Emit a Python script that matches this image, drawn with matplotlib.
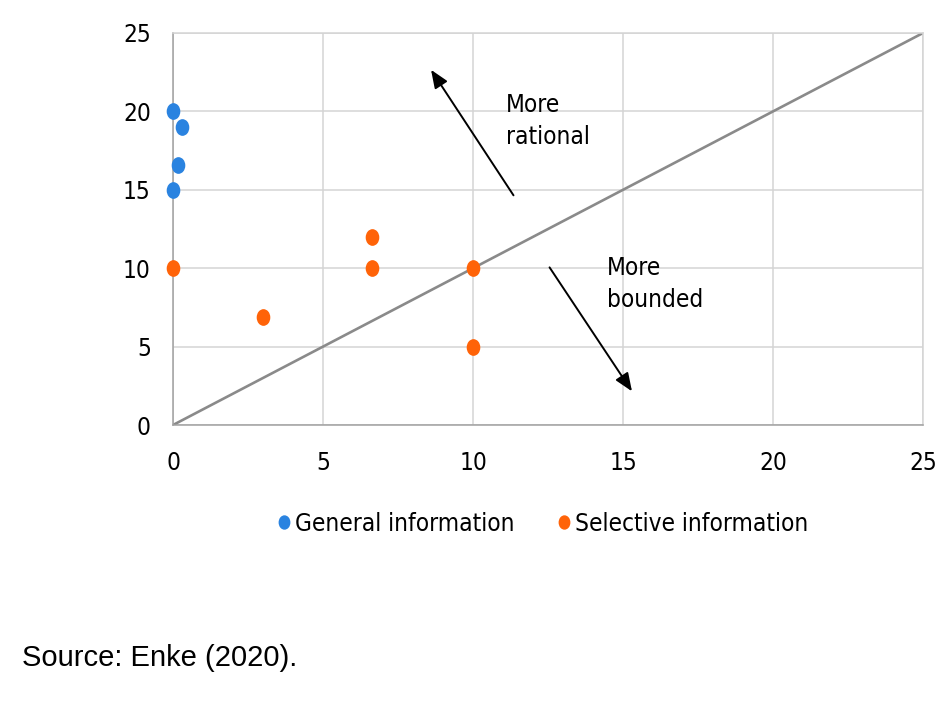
import matplotlib
matplotlib.use("Agg")
import matplotlib.pyplot as plt
from matplotlib.path import Path
from matplotlib.transforms import Affine2D
import numpy as np

# data
general_x = [0.0, 0.3, 0.17, 0.0]
general_y = [20.0, 19.0, 16.6, 15.0]
selective_x = [0.0, 3.0, 6.63, 6.63, 10.0, 10.0]
selective_y = [10.0, 6.9, 12.0, 10.0, 10.0, 5.0]
ticks = [0, 5, 10, 15, 20, 25]

plt.rcParams["font.family"] = "DejaVu Sans"
plt.rcParams["font.stretch"] = "condensed"
fs = 17.5

# slightly tall dot, like the squeezed original
dot = Path.unit_circle().transformed(Affine2D().scale(0.8, 1.0))

fig = plt.figure(figsize=(9.46, 7.08), dpi=100)
ax = fig.add_axes([0.1829, 0.3997, 0.7928, 0.5537])

ax.plot([0, 25], [0, 25], color="#8a8a8a", lw=1.9, zorder=2)
ax.plot(general_x, general_y, ls="none", marker=dot, ms=11, color="#2a83e0",
        label="General information", zorder=3, clip_on=False)
ax.plot(selective_x, selective_y, ls="none", marker=dot, ms=11, color="#ff6308",
        label="Selective information", zorder=3, clip_on=False)

arrow = dict(arrowstyle="-|>,head_length=1.1,head_width=0.45", color="black", lw=1.4)
ax.annotate("", xy=(8.55, 22.8), xytext=(11.4, 14.5), arrowprops=arrow)
ax.annotate("", xy=(15.35, 2.0), xytext=(12.5, 10.2), arrowprops=arrow)
ax.text(11.1, 19.4, "More\nrational", fontsize=fs, va="center", ha="left",
        linespacing=1.45)
ax.text(14.45, 9.0, "More\nbounded", fontsize=fs, va="center", ha="left",
        linespacing=1.45)

ax.set_xlim(0, 25)
ax.set_ylim(0, 25)
ax.set_xticks(ticks)
ax.set_yticks(ticks)
ax.grid(True, color="#d4d4d4", lw=1.1)
ax.set_axisbelow(True)
for s in ax.spines.values():
    s.set_color("#d4d4d4")
    s.set_linewidth(1.1)
ax.spines["bottom"].set_color("#a0a0a0")
ax.spines["left"].set_color("#a0a0a0")
ax.tick_params(length=0, labelsize=fs, pad=16)
ax.tick_params(axis="x", pad=19)

fig.legend(loc="center", bbox_to_anchor=(0.574, 0.26), ncol=2, frameon=False,
           prop={"size": fs}, handlelength=0.5,
           handletextpad=0.2, columnspacing=1.8, markerscale=0.85)

fig.text(0.023, 0.07, "Source: Enke (2020).", fontsize=21,
         family="Liberation Sans", stretch="normal", va="center", ha="left")

fig.savefig("out.png", dpi=100)
